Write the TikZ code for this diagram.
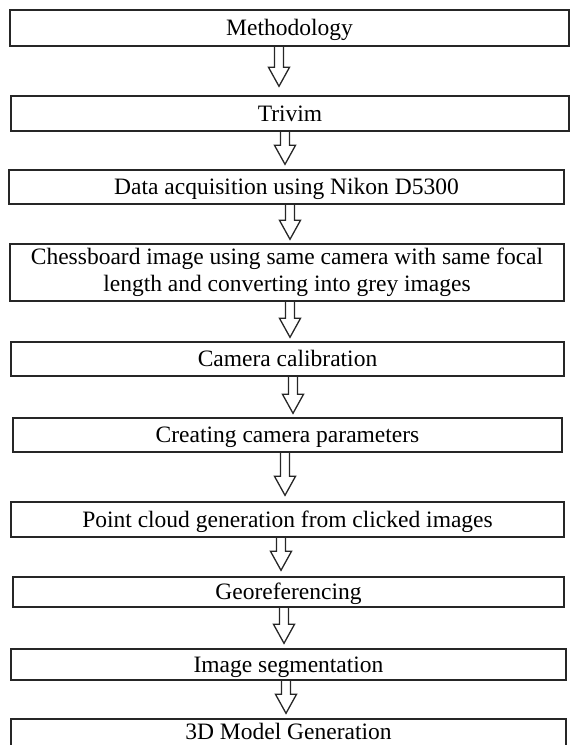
\documentclass[tikz,border=0pt]{standalone}
\usepackage{fontspec}
\setmainfont{Liberation Serif}
\usetikzlibrary{calc}

\tikzset{
  stepbox/.style={draw=black!85, line width=1.4pt, inner sep=0pt, align=center,
    font=\fontsize{23.5}{27}\selectfont},
  oneline/.style={stepbox, text height=19pt, text depth=3.4pt},
  raised/.style={stepbox, text height=15pt, text depth=7.4pt},
  hollow/.style={draw=black!85, line width=1.3pt, line join=miter},
}

% hollow block arrow: #1 source node, #2 target node, #3 x of its axis, #4 gap before target
\newcommand\flowarrow[4]{%
  \draw[hollow] let \p1=(#1.south), \p2=(#2.north) in
    (#3pt-4.5pt,\y1) -- (#3pt-4.5pt,\y2+#4pt+19pt) -- (#3pt-10.5pt,\y2+#4pt+19pt)
    -- (#3pt,\y2+#4pt) -- (#3pt+10.5pt,\y2+#4pt+19pt) -- (#3pt+4.5pt,\y2+#4pt+19pt)
    -- (#3pt+4.5pt,\y1);}

\begin{document}
\begin{tikzpicture}[x=1pt,y=1pt]
\useasboundingbox (0,0) rectangle (570,-745);

\node[oneline, minimum width=559pt, minimum height=36pt] (meth) at (289.5,-28) {Methodology};
\node[oneline, minimum width=558pt, minimum height=35pt] (triv) at (290,-113.5) {Trivim};
\node[oneline, minimum width=555pt, minimum height=34pt] (data) at (286.5,-187) {Data acquisition using Nikon D5300};
\node[stepbox, minimum width=554pt, minimum height=57pt] (chess) at (287,-272.5)
  {Chessboard image using same camera with same focal\\length and converting into grey images};
\node[oneline, minimum width=553pt, minimum height=34pt] (calib) at (287.5,-359) {Camera calibration};
\node[oneline, minimum width=549pt, minimum height=34pt] (param) at (287.5,-435) {Creating camera parameters};
\node[oneline, minimum width=553pt, minimum height=35pt] (cloud) at (287.5,-519.5) {Point cloud generation from clicked images};
\node[oneline, minimum width=551pt, minimum height=30pt] (geo) at (288.5,-592) {Georeferencing};
\node[oneline, minimum width=555pt, minimum height=31pt] (seg) at (288.5,-664.5) {Image segmentation};
\node[raised, minimum width=555pt, minimum height=33pt] (model) at (288.5,-735.5) {3D Model Generation};

\flowarrow{meth}{triv}{279}{9}
\flowarrow{triv}{data}{285}{5}
\flowarrow{data}{chess}{290}{4}
\flowarrow{chess}{calib}{290}{4}
\flowarrow{calib}{param}{293}{4}
\flowarrow{param}{cloud}{285}{6}
\flowarrow{cloud}{geo}{281}{6}
\flowarrow{geo}{seg}{284}{5}
\flowarrow{seg}{model}{286}{5}
\end{tikzpicture}
\end{document}
